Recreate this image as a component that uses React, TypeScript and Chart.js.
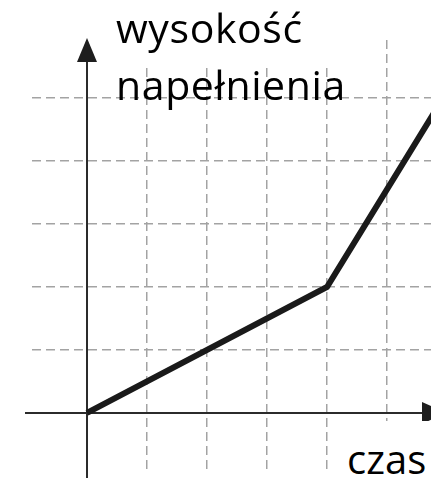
import React, { useEffect, useRef } from "react";
import { Chart, registerables } from "chart.js";

Chart.register(...registerables);

// Data (time vs. fill height)
const TIME_VALUES = [0, 4, 6];
const HEIGHT_VALUES = [0, 2, 5.1];

// Axis ranges (grid units)
const X_MIN = -0.9167;
const X_MAX = 5.733;
const Y_MIN = -0.937;
const Y_MAX = 5.92;

const Y_LABEL_LINES = ["wysokość", "napełnienia"];
const X_LABEL = "czas";

const FONT = "'Open Sans', sans-serif";

const axesPlugin = {
  id: "arrowAxes",
  beforeDatasetsDraw(chart: any) {
    const { ctx, chartArea, scales } = chart;
    const ox = scales.x.getPixelForValue(0);
    const oy = scales.y.getPixelForValue(0);
    ctx.save();
    ctx.strokeStyle = "#2b2b2b";
    ctx.fillStyle = "#1e1e1e";
    ctx.lineWidth = 2;
    // x axis
    const xStart = chartArea.left - 7;
    const xBase = chartArea.right - 9;
    ctx.beginPath();
    ctx.moveTo(xStart, oy);
    ctx.lineTo(xBase, oy);
    ctx.stroke();
    ctx.beginPath();
    ctx.moveTo(xBase, oy - 11);
    ctx.lineTo(xBase + 24, oy);
    ctx.lineTo(xBase, oy + 11);
    ctx.closePath();
    ctx.fill();
    // y axis
    const yBottom = chartArea.bottom + 6;
    const yTip = chartArea.top - 2;
    ctx.beginPath();
    ctx.moveTo(ox, yBottom);
    ctx.lineTo(ox, yTip + 24);
    ctx.stroke();
    ctx.beginPath();
    ctx.moveTo(ox - 10, yTip + 24);
    ctx.lineTo(ox, yTip);
    ctx.lineTo(ox + 10, yTip + 24);
    ctx.closePath();
    ctx.fill();
    ctx.restore();
  },
};

export default function App() {
  const canvasRef = useRef<HTMLCanvasElement | null>(null);

  useEffect(() => {
    if (!canvasRef.current) return;
    const gridOpts = {
      display: true,
      color: "#a3a3a3",
      lineWidth: 1.5,
      drawTicks: false,
    };
    const chart = new Chart(canvasRef.current, {
      type: "line",
      data: {
        datasets: [
          {
            data: TIME_VALUES.map((t, i) => ({ x: t, y: HEIGHT_VALUES[i] })),
            borderColor: "#1a1a1a",
            borderWidth: 6,
            pointRadius: 0,
            tension: 0,
            fill: false,
          },
        ],
      },
      options: {
        animation: false,
        responsive: false,
        devicePixelRatio: 1,
        layout: { padding: { left: 32, top: 40, right: 0, bottom: 10 } },
        plugins: {
          legend: { display: false },
          tooltip: { enabled: false },
          title: { display: false },
        },
        scales: {
          x: {
            type: "linear",
            min: X_MIN,
            max: X_MAX,
            grid: gridOpts,
            border: { display: false, dash: [9, 5] },
            ticks: { display: false, stepSize: 1, includeBounds: false },
            afterFit: (s: any) => {
              s.height = 0;
            },
          },
          y: {
            type: "linear",
            min: Y_MIN,
            max: Y_MAX,
            grid: gridOpts,
            border: { display: false, dash: [9, 5] },
            ticks: { display: false, stepSize: 1, includeBounds: false },
            afterFit: (s: any) => {
              s.width = 0;
            },
          },
        },
      },
      plugins: [axesPlugin],
    });
    return () => chart.destroy();
  }, []);

  const textStyle: React.CSSProperties = {
    position: "absolute",
    fontFamily: FONT,
    fontSize: 41,
    lineHeight: "41px",
    letterSpacing: "0.6px",
    color: "#000",
    whiteSpace: "nowrap",
  };

  return (
    <div
      style={{
        position: "fixed",
        left: 0,
        top: 0,
        width: 431,
        height: 482,
        background: "#fff",
        overflow: "hidden",
      }}
    >
      <canvas
        ref={canvasRef}
        width={431}
        height={482}
        style={{ position: "absolute", left: 0, top: 0, width: 431, height: 482 }}
      />
      <div
        style={{
          position: "absolute",
          left: 110,
          top: 0,
          width: 236,
          height: 63,
          background: "#fff",
        }}
      />
      <div style={{ ...textStyle, left: 116, top: 7 }}>{Y_LABEL_LINES[0]}</div>
      <div style={{ ...textStyle, left: 116, top: 64 }}>{Y_LABEL_LINES[1]}</div>
      <div
        style={{
          position: "absolute",
          left: 345,
          top: 421,
          width: 86,
          height: 61,
          background: "#fff",
        }}
      />
      <div
        style={{
          ...textStyle,
          fontSize: 40,
          lineHeight: "40px",
          letterSpacing: "0px",
          left: 347,
          top: 439,
        }}
      >
        {X_LABEL}
      </div>
    </div>
  );
}
